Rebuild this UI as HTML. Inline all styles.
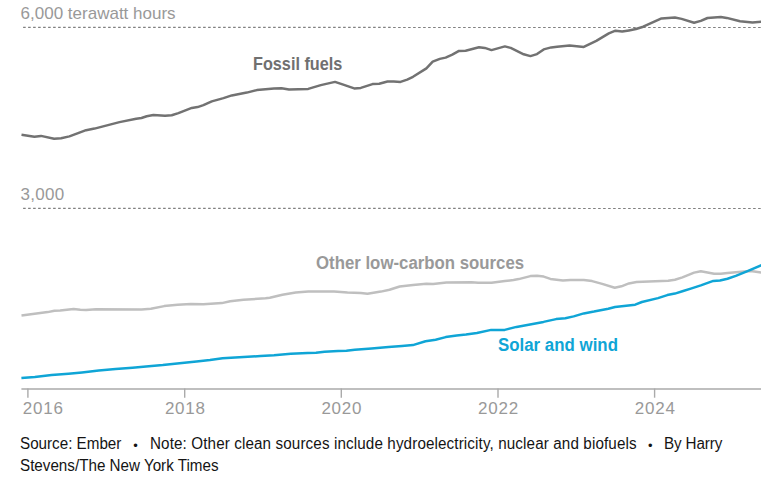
<!DOCTYPE html>
<html><head><meta charset="utf-8"><title>Chart</title>
<style>
html,body{margin:0;padding:0;background:#fff;}
body{width:761px;height:480px;position:relative;overflow:hidden;font-family:"Liberation Sans",sans-serif;}
svg{position:absolute;left:0;top:0;}
.t{position:absolute;white-space:nowrap;line-height:1;}
.ax{color:#999;font-size:17px;}
.yr{letter-spacing:0.75px;}
.lb{font-weight:bold;font-size:18px;transform-origin:0 0;}
.ft{font-size:16px;color:#141414;transform:scaleX(0.95);transform-origin:0 0;}
.bu{font-size:13px;transform:translateX(-50%);}
</style></head><body>
<svg width="761" height="480" viewBox="0 0 761 480">
<line x1="23.1" x2="761" y1="27.4" y2="27.5" stroke="#808080" stroke-width="1.15" stroke-dasharray="2.6 2.4"/>
<line x1="23.1" x2="761" y1="208.3" y2="208.5" stroke="#808080" stroke-width="1.15" stroke-dasharray="2.6 2.4"/>
<line x1="21.4" x2="761" y1="389" y2="389" stroke="#aaa" stroke-width="1.3"/>
<line x1="27.9" x2="27.9" y1="388.5" y2="397.7" stroke="#aaa" stroke-width="1.4"/><line x1="184.7" x2="184.7" y1="388.5" y2="397.7" stroke="#aaa" stroke-width="1.4"/><line x1="341.3" x2="341.3" y1="388.5" y2="397.7" stroke="#aaa" stroke-width="1.4"/><line x1="498.0" x2="498.0" y1="388.5" y2="397.7" stroke="#aaa" stroke-width="1.4"/><line x1="654.6" x2="654.6" y1="388.5" y2="397.7" stroke="#aaa" stroke-width="1.4"/>
<path d="M21.5,134.7 L34.4,136.7 L41.0,135.9 L54.1,138.7 L61.1,138.2 L69.4,136.4 L86.1,130.2 L94.5,128.6 L119.5,122.1 L136.2,118.7 L141.5,118.0 L146.7,116.3 L153.4,115.1 L165.0,115.8 L171.7,115.3 L178.4,113.1 L191.8,107.9 L197.6,107.1 L203.4,105.1 L211.8,101.4 L223.5,98.1 L231.8,95.4 L246.8,92.6 L256.9,90.1 L265.5,89.2 L274.0,88.4 L281.5,88.2 L289.0,89.4 L308.2,88.9 L320.8,85.1 L335.0,81.9 L342.5,84.4 L354.2,88.4 L360.8,87.9 L372.5,84.1 L379.2,83.7 L387.5,81.5 L393.8,81.6 L400.5,81.9 L407.2,79.6 L413.0,76.8 L426.4,68.4 L432.7,61.7 L439.8,58.9 L445.6,57.6 L452.3,54.7 L459.0,50.9 L465.6,50.7 L479.0,47.2 L484.8,47.9 L491.5,50.1 L504.9,46.4 L510.7,47.9 L523.7,54.3 L530.4,56.1 L537.0,54.1 L543.7,49.4 L551.2,47.4 L557.1,46.7 L569.6,45.6 L583.8,46.9 L596.3,40.9 L608.8,33.4 L615.5,30.7 L622.2,31.6 L628.9,30.4 L636.0,29.0 L643.2,26.7 L661.5,18.4 L674.9,17.5 L681.6,18.9 L694.1,22.7 L700.8,20.9 L707.5,18.0 L720.8,16.9 L726.7,17.9 L740.0,21.2 L752.5,22.4 L762.0,21.7" fill="none" stroke="#727272" stroke-width="2.5" stroke-linejoin="round" stroke-linecap="butt"/>
<path d="M21.5,315.6 L47.7,312.1 L54.4,310.7 L60.2,310.6 L73.6,308.9 L80.3,309.7 L86.1,310.1 L96.1,309.2 L141.5,309.4 L150.9,308.8 L164.2,306.1 L177.6,304.8 L190.9,303.9 L203.4,304.3 L221.8,303.1 L230.2,301.3 L243.5,299.7 L265.5,298.3 L269.8,297.8 L282.4,294.8 L295.7,292.6 L308.2,291.6 L334.1,291.4 L347.5,292.6 L360.8,293.1 L367.5,293.8 L380.9,291.6 L389.5,289.8 L399.7,286.5 L413.0,285.0 L426.4,283.7 L433.1,283.9 L446.4,282.6 L471.5,282.2 L478.2,282.7 L491.5,282.7 L504.9,281.1 L513.5,280.0 L518.7,279.1 L530.4,276.1 L537.0,275.7 L543.7,276.6 L550.4,278.9 L562.9,280.6 L570.4,280.1 L583.8,279.9 L592.1,281.1 L602.2,283.9 L614.7,287.8 L621.4,286.3 L628.9,283.4 L636.5,282.1 L649.0,281.4 L668.2,280.8 L674.9,279.7 L682.4,277.4 L694.1,272.6 L700.8,271.2 L707.5,272.4 L714.1,273.7 L720.8,273.7 L727.5,273.1 L744.2,271.4 L750.9,270.9 L762.0,272.7" fill="none" stroke="#bfbfbf" stroke-width="2.5" stroke-linejoin="round"/>
<path d="M21.4,377.9 L34.8,376.9 L51.6,375.1 L68.5,373.7 L82.0,372.4 L98.8,370.5 L115.6,369.1 L132.5,367.7 L146.0,366.6 L162.8,365.1 L179.6,363.2 L196.5,361.5 L210.0,360.0 L222.6,358.2 L235.2,357.4 L247.8,356.8 L260.5,356.0 L274.0,355.2 L290.8,353.8 L307.6,352.9 L316.0,352.7 L324.5,351.7 L338.0,350.9 L346.4,350.7 L354.8,349.8 L371.6,348.5 L388.5,347.1 L402.0,346.1 L412.9,345.1 L425.5,341.3 L435.6,339.7 L445.7,337.1 L456.7,335.4 L466.0,334.6 L476.9,333.0 L491.2,329.9 L504.7,329.9 L516.5,326.9 L530.0,324.4 L543.5,321.9 L556.1,319.1 L565.3,318.2 L573.7,316.4 L583.8,313.4 L594.0,311.6 L608.3,308.7 L615.0,307.0 L635.2,304.7 L641.9,302.0 L658.0,298.1 L667.3,295.1 L674.9,293.6 L682.4,291.3 L691.6,288.4 L700.8,285.4 L713.3,280.9 L720.0,280.5 L727.5,278.7 L735.8,275.9 L747.5,271.1 L762.0,265.0" fill="none" stroke="#0fa5d6" stroke-width="2.5" stroke-linejoin="round"/>
</svg>
<div class="t ax" id="a6" style="left:20.6px;top:4.5px;">6,000 terawatt hours</div>
<div class="t ax" id="a3" style="left:20.6px;top:185.7px;letter-spacing:0.25px;">3,000</div>
<div class="t ax yr" id="y16" style="left:22.8px;top:399.6px;">2016</div>
<div class="t ax yr" id="y18" style="left:164.9px;top:399.6px;">2018</div>
<div class="t ax yr" id="y20" style="left:321.4px;top:399.6px;">2020</div>
<div class="t ax yr" id="y22" style="left:478.1px;top:399.6px;">2022</div>
<div class="t ax yr" id="y24" style="left:634.8px;top:399.6px;">2024</div>
<div class="t lb" id="lf" style="left:252.5px;top:54.9px;color:#707070;transform:scaleX(0.902);">Fossil fuels</div>
<div class="t lb" id="lo" style="left:315.9px;top:254px;color:#999;transform:scaleX(0.933);">Other low-carbon sources</div>
<div class="t lb" id="ls" style="left:497.9px;top:336.1px;color:#0fa5d6;transform:scaleX(0.937);">Solar and wind</div>
<div class="t ft" id="f1" style="left:20.2px;top:435.7px;">Source: Ember</div>
<div class="t ft bu" id="b1" style="left:135.6px;top:439.2px;">•</div>
<div class="t ft" id="f2" style="left:149.9px;top:435.7px;letter-spacing:0.128px;">Note: Other clean sources include hydroelectricity, nuclear and biofuels</div>
<div class="t ft bu" id="b2" style="left:650.4px;top:439.2px;">•</div>
<div class="t ft" id="f3" style="left:663.9px;top:435.7px;letter-spacing:-0.125px;">By Harry</div>
<div class="t ft" id="f4" style="left:20.2px;top:457.7px;">Stevens/The New York Times</div>
</body></html>
